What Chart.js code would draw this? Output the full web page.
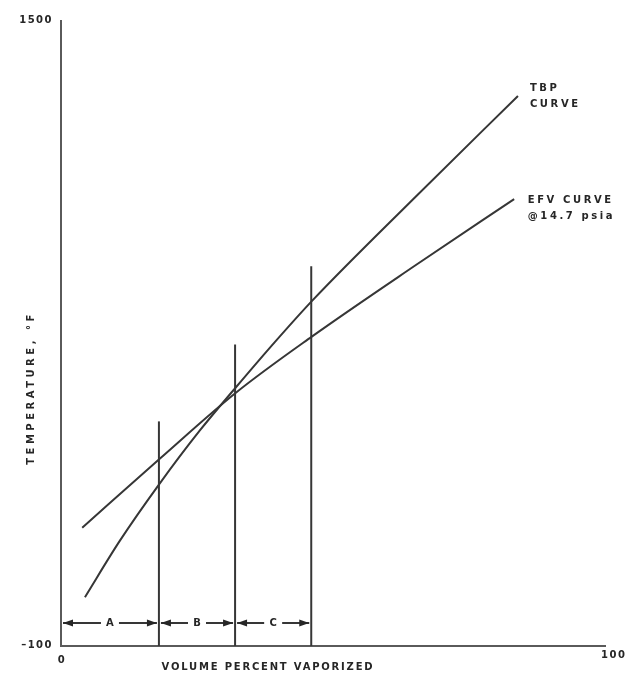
<!DOCTYPE html>
<html>
<head>
<meta charset="utf-8">
<script src="https://cdn.jsdelivr.net/npm/chart.js@4/dist/chart.umd.min.js"></script>
<style>
  html, body { margin: 0; padding: 0; background: #fff; }
  #wrap { width: 632px; height: 678px; position: relative; }
</style>
</head>
<body>
<div id="wrap"><canvas id="c"></canvas></div>
<script>
// True boiling point curve (volume %, °F)
const tbpVolume = [4.4, 10.8, 18.2, 25.6, 32.2, 39.3, 46.1, 65.1, 84.0];
const tbpTemp   = [25, 169, 317, 453, 563, 678, 783, 1049, 1308];
// Equilibrium flash vaporization curve at 14.7 psia
const efvVolume = [3.9, 18.2, 32.2, 46.1, 65.1, 83.3];
const efvTemp   = [203, 380, 549, 692, 874, 1044];
// Cut points separating fractions A, B, C
const cutVolume  = [18, 32, 46];
const cutTopTemp = [475, 672, 872];
const rangeLabels = ['A', 'B', 'C'];
const rangeRowTemp = -41;
// Axis ranges and tick labels
const xTickValues = [0, 100];
const xTickLabels = ['0', '100'];
const yTickValues = [-100, 1500];
const yTickLabels = ['\u2013100', '1500'];
const curveNotes = [
  { lines: ['TBP', 'CURVE'], volume: 86.2, temp: 1328 },
  { lines: ['EFV CURVE', '@14.7 psia'], volume: 85.8, temp: 1041 }
];

const INK = '#262626';
const LINE = '#363636';

const pts = (xs, ys) => xs.map((x, i) => ({ x, y: ys[i] }));

const curveStyle = {
  borderColor: LINE,
  borderWidth: 2,
  pointRadius: 0,
  tension: 0.4,
  cubicInterpolationMode: 'monotone',
  fill: false
};

const datasets = [
  Object.assign({ label: 'TBP', data: pts(tbpVolume, tbpTemp) }, curveStyle),
  Object.assign({ label: 'EFV', data: pts(efvVolume, efvTemp) }, curveStyle)
];
cutVolume.forEach((v, i) => {
  datasets.push({
    label: 'cut ' + rangeLabels[i],
    data: [{ x: v, y: yTickValues[0] }, { x: v, y: cutTopTemp[i] }],
    borderColor: LINE,
    borderWidth: 2,
    pointRadius: 0,
    tension: 0,
    fill: false
  });
});

function drawArrowHead(ctx, tipX, y, dir) {
  const len = 10, half = 3.5;
  ctx.beginPath();
  ctx.moveTo(tipX, y);
  ctx.lineTo(tipX - dir * len, y - half);
  ctx.lineTo(tipX - dir * len, y + half);
  ctx.closePath();
  ctx.fill();
}

const annotations = {
  id: 'annotations',
  afterDraw(chart) {
    const { ctx, scales: { x, y } } = chart;
    ctx.save();
    ctx.fillStyle = INK;
    ctx.strokeStyle = LINE;

    // Fraction ranges with double arrows
    const rowY = y.getPixelForValue(rangeRowTemp);
    const bounds = [0].concat(cutVolume);
    ctx.font = 'bold 10px "DejaVu Sans"';
    ctx.textAlign = 'center';
    ctx.textBaseline = 'middle';
    for (let i = 0; i < rangeLabels.length; i++) {
      const x0 = x.getPixelForValue(bounds[i]) + 2;
      const x1 = x.getPixelForValue(bounds[i + 1]) - 2;
      const mid = (x0 + x1) / 2;
      const gap = 9;
      ctx.lineWidth = 2;
      ctx.beginPath();
      ctx.moveTo(x0, rowY); ctx.lineTo(mid - gap, rowY);
      ctx.moveTo(mid + gap, rowY); ctx.lineTo(x1, rowY);
      ctx.stroke();
      drawArrowHead(ctx, x0, rowY, -1);
      drawArrowHead(ctx, x1, rowY, 1);
      ctx.fillText(rangeLabels[i], mid, rowY + 0.5);
    }

    // Curve notes
    ctx.textAlign = 'left';
    ctx.textBaseline = 'middle';
    ctx.font = 'bold 10px "DejaVu Sans"';
    ctx.letterSpacing = '2.6px';
    curveNotes.forEach(n => {
      const px = x.getPixelForValue(n.volume);
      const py = y.getPixelForValue(n.temp);
      n.lines.forEach((t, k) => ctx.fillText(t, px, py + k * 16));
    });

    // Tick labels
    ctx.font = 'bold 10px "DejaVu Sans"';
    ctx.letterSpacing = '1.5px';
    ctx.textAlign = 'right';
    yTickValues.forEach((v, i) => {
      ctx.fillText(yTickLabels[i], x.left - 8, y.getPixelForValue(v) - 1);
    });
    ctx.textAlign = 'center';
    ctx.fillText(xTickLabels[0], x.getPixelForValue(xTickValues[0]) + 1, y.bottom + 14);
    ctx.textAlign = 'left';
    ctx.fillText(xTickLabels[1], x.getPixelForValue(xTickValues[1]) - 4, y.bottom + 9);

    // Axis titles
    ctx.font = 'bold 10px "DejaVu Sans"';
    ctx.letterSpacing = '1.8px';
    ctx.textAlign = 'center';
    ctx.fillText('VOLUME PERCENT VAPORIZED', 268, y.bottom + 21);

    ctx.save();
    ctx.translate(31, 388);
    ctx.rotate(-Math.PI / 2);
    ctx.letterSpacing = '3.5px';
    ctx.fillText('TEMPERATURE, \u00B0F', 0, 0);
    ctx.restore();

    ctx.restore();
  }
};

new Chart(document.getElementById('c'), {
  type: 'scatter',
  data: { datasets },
  options: {
    responsive: true,
    maintainAspectRatio: false,
    animation: false,
    showLine: true,
    layout: { padding: { left: 61, right: 27, top: 21, bottom: 32 } },
    plugins: { legend: { display: false }, tooltip: { enabled: false } },
    scales: {
      x: {
        type: 'linear', min: xTickValues[0], max: xTickValues[1],
        grid: { display: false, drawTicks: false },
        ticks: { display: false },
        border: { display: true, color: '#5a5a5a', width: 2 },
        afterFit(s) { s.height = 0; }
      },
      y: {
        type: 'linear', min: yTickValues[0], max: yTickValues[1],
        grid: { display: false, drawTicks: false },
        ticks: { display: false },
        border: { display: true, color: '#5a5a5a', width: 2 },
        afterFit(s) { s.width = 0; }
      }
    }
  },
  plugins: [annotations]
});
</script>
</body>
</html>
